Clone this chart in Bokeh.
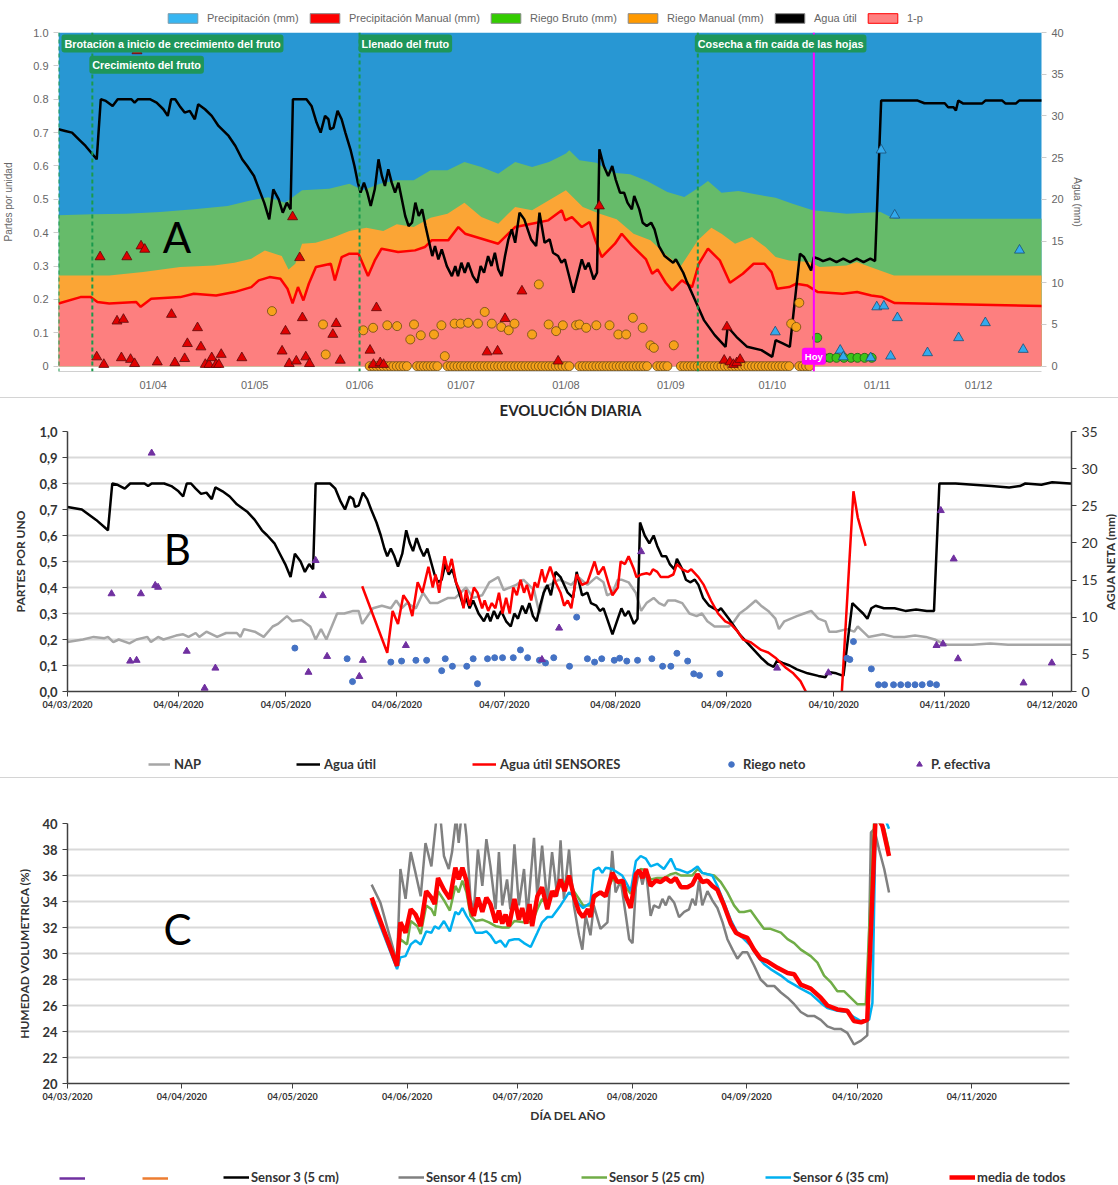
import pandas as pd
from bokeh.plotting import figure
from bokeh.models import (Range1d, LinearAxis, FixedTicker, Span, Label, Legend,
                          LegendItem, Div, CustomJSTickFormatter)
from bokeh.layouts import column
from bokeh.embed import file_html
from bokeh.resources import INLINE
from bokeh.core.properties import value

# ======================= DATA =======================
START = "2020-03-04"   # day 0 of every series (x values are days since START)

# ---- Panel A : stacked areas (fraction 0-1) ----
A_PRECIP_TOP = [(0,1.0),(291,1.0)]
A_GREEN_TOP = [(0,0.452),(10,0.455),(20,0.457),(30,0.462),(40,0.470),(50,0.480),(57,0.497),(62,0.506),
               (67,0.490),(72,0.527),(80,0.532),(86,0.547),(90,0.527),(95,0.547),(100,0.557),(105,0.557),
               (110,0.587),(115,0.587),(120,0.612),(125,0.597),(130,0.577),(135,0.612),(140,0.597),
               (145,0.612),(148,0.627),(150,0.637),(151,0.647),(154,0.617),(159,0.610),(164,0.580),
               (169,0.575),(174,0.555),(180,0.522),(185,0.507),(190,0.540),(192,0.555),(196,0.520),
               (201,0.525),(206,0.515),(212,0.505),(217,0.487),(223,0.467),(233,0.457),(243,0.462),
               (247,0.442),(291,0.442)]
A_ORANGE_TOP = [(0,0.272),(15,0.272),(25,0.282),(36,0.297),(46,0.302),(52,0.310),(57,0.322),(61,0.347),
                (66,0.330),(68,0.290),(70,0.307),(72,0.367),(76,0.370),(81,0.385),(86,0.405),(91,0.415),
                (96,0.405),(100,0.425),(105,0.417),(110,0.445),(115,0.457),(120,0.490),(125,0.447),
                (130,0.427),(135,0.477),(140,0.467),(145,0.497),(150,0.527),(155,0.477),(160,0.457),
                (165,0.440),(170,0.397),(175,0.377),(180,0.330),(184,0.300),(189,0.377),(193,0.415),
                (196,0.397),(200,0.367),(205,0.387),(209,0.357),(212,0.327),(216,0.317),(222,0.312),
                (225,0.297),(233,0.302),(236,0.312),(240,0.297),(247,0.272),(291,0.272)]
A_RED_LINE = [(0,0.188),(6.5,0.207),(9.5,0.207),(11.5,0.192),(15,0.188),(23,0.192),(24.3,0.178),
              (27.4,0.202),(36,0.207),(40,0.217),(46.6,0.212),(52,0.222),(57,0.237),(59.2,0.257),
              (62.4,0.267),(65.6,0.262),(67.7,0.232),(69.2,0.188),(70.8,0.237),(72.4,0.197),(74,0.247),
              (76.1,0.297),(80.5,0.307),(81.7,0.257),(83.7,0.327),(86,0.337),(88.7,0.337),(91.5,0.270),
              (93.5,0.317),(95.5,0.352),(100.4,0.342),(105.4,0.347),(108.3,0.357),(110.3,0.377),
              (115.2,0.377),(118.2,0.417),(120.2,0.397),(125.1,0.382),(130,0.367),(135,0.417),
              (139.9,0.427),(144.8,0.437),(148.8,0.467),(149.8,0.437),(151.8,0.447),(154.7,0.417),
              (157,0.432),(158.7,0.377),(160.6,0.327),(164.5,0.367),(166.5,0.397),(169.5,0.362),
              (173.7,0.320),(175.5,0.277),(177.1,0.290),(179.5,0.250),(181.4,0.227),(184.3,0.257),
              (187.3,0.237),(189.3,0.307),(192,0.352),(195.5,0.317),(198.5,0.250),(202.3,0.277),
              (205.5,0.307),(208.7,0.307),(210.8,0.282),(212.4,0.232),(216,0.237),(218.1,0.247),
              (221.3,0.242),(224.5,0.222),(231.8,0.217),(236.1,0.222),(240.3,0.212),(243.5,0.207),
              (247.2,0.189),(291,0.180)]

# ---- Agua util (fraction) shared by A and B ----
AGUA_UTIL = [(0,0.71),(2,0.705),(4,0.70),(6,0.68),(8,0.66),(11.3,0.62),(12.5,0.80),(14,0.795),(16,0.78),
             (17.5,0.80),(21.5,0.80),(22.5,0.79),(23.5,0.80),(27,0.80),(29,0.79),(31,0.77),(32.3,0.75),
             (33.3,0.80),(34.5,0.80),(35.8,0.78),(37.3,0.76),(38.8,0.765),(40.3,0.74),(41.3,0.785),
             (43.3,0.77),(45.3,0.75),(47.3,0.72),(50.3,0.69),(52.3,0.66),(54.3,0.62),(55.8,0.60),
             (57.8,0.57),(59.3,0.53),(60.8,0.49),(62.3,0.44),(63.5,0.53),(65.1,0.50),(66.3,0.46),
             (67.5,0.49),(68.6,0.47),(69.3,0.80),(73.3,0.80),(74.8,0.78),(76.3,0.73),(77.5,0.70),
             (78.8,0.75),(79.8,0.74),(80.3,0.71),(81.3,0.715),(82.5,0.765),(83.7,0.74),(84.8,0.70),
             (86.3,0.65),(87.5,0.60),(88.5,0.55),(89.3,0.52),(90.3,0.55),(91.3,0.52),(92.3,0.48),
             (93.5,0.53),(94.6,0.62),(95.6,0.57),(96.5,0.54),(97.5,0.59),(98.5,0.55),(99.5,0.52),
             (100.5,0.55),(101.5,0.50),(102.5,0.45),(103.5,0.42),(104.5,0.43),(105.5,0.49),(106.5,0.45),
             (107.5,0.47),(108.5,0.42),(109.6,0.37),(110.5,0.33),(111.3,0.36),(112.3,0.32),(113.3,0.35),
             (114.8,0.30),(116.3,0.27),(117.3,0.30),(118.1,0.27),(119.1,0.31),(120.1,0.28),(121.1,0.31),
             (122.5,0.27),(123.8,0.25),(124.8,0.30),(125.8,0.28),(127,0.33),(128,0.30),(129,0.34),
             (130,0.29),(131,0.27),(132,0.33),(133,0.38),(134,0.41),(135,0.37),(136.3,0.46),(137.7,0.44),
             (139.7,0.38),(141.2,0.36),(142.2,0.46),(143.7,0.37),(145.2,0.38),(146.2,0.34),(147.7,0.33),
             (148.7,0.31),(149.7,0.32),(150.7,0.28),(152.2,0.22),(153.7,0.28),(154.7,0.32),(155.7,0.29),
             (156.7,0.31),(158.2,0.26),(159.2,0.28),(159.9,0.65),(161.2,0.60),(162.5,0.57),(163.7,0.60),
             (164.7,0.56),(166,0.52),(167.2,0.52),(168.2,0.49),(169.5,0.47),(170.2,0.51),(171.7,0.47),
             (172.7,0.43),(173.9,0.42),(175.2,0.43),(176.2,0.41),(177.5,0.36),(179.2,0.33),(181.7,0.31),
             (182.5,0.32),(184.7,0.28),(187.7,0.22),(189.7,0.19),(191.7,0.16),(193.7,0.13),(195.7,0.105),
             (197.2,0.095),(198.2,0.12),(199.7,0.11),(201.7,0.10),(203.7,0.085),(206.7,0.07),(209.7,0.06),
             (211.7,0.055),(212.5,0.075),(214.7,0.07),(216.7,0.06),(219.2,0.34),(220.7,0.32),(222.2,0.30),
             (223.4,0.28),(224.5,0.32),(225.7,0.33),(228,0.32),(231,0.32),(234,0.31),(237,0.315),
             (240,0.31),(242,0.31),(243.5,0.80),(248,0.80),(253,0.795),(258,0.79),(263,0.785),(266,0.79),
             (267.5,0.80),(272,0.795),(275,0.805),(280,0.80),(291,0.80)]
# Panel A version of the curve after early September
A_AGUA_UTIL_TAIL = [(185.6,0.257),(190.8,0.138),(194,0.093),(197.2,0.058),(197.8,0.118),(200.4,0.088),
                    (203.6,0.058),(207.8,0.048),(211,0.028),(212,0.078),(214.1,0.068),(216.2,0.058),
                    (219.2,0.337),(220.4,0.327),(222.5,0.287),(223.3,0.327),(224.6,0.322),(226,0.315),
                    (228,0.322),(230,0.312),(232,0.322),(234,0.312),(236,0.322),(238,0.312),(240,0.322),
                    (241.4,0.315),(243.2,0.796),(254,0.796),(256,0.788),(262,0.788),(263,0.776),
                    (264.6,0.776),(265.3,0.766),(266,0.796),(267.5,0.787),(273,0.787),(274,0.796),
                    (279,0.796),(280,0.787),(283,0.787),(284,0.796),(291,0.796)]

# ---- Panel A scatter (day, mm) ----
A_PREC_MANUAL = [(11.3,1.1),(12.3,13.1),(13.4,0.2),(17.3,5.4),(18.6,1.0),(19.2,5.6),(20.2,13.1),(21.3,0.8),
                 (22.5,0.3),(23.2,37.8),(24.4,14.4),(25.5,14.0),(29.2,0.5),(33.4,6.2),(34.4,0.4),(37.3,0.9),
                 (38.1,2.7),(41.1,4.6),(42.1,2.3),(43.4,0.2),(44.5,0.2),(45.3,1.0),(46.6,0.2),(47.4,0.2),
                 (48.1,1.4),(54.2,1.0),(66.1,1.8),(67.1,4.2),(68.2,0.3),(69.2,17.9),(70.3,0.6),(71.3,13.0),
                 (72.1,5.8),(73.1,1.1),(74.2,0.3),(81.1,3.8),(82.1,5.1),(83.3,0.7),(92.1,1.9),(93.1,0.2),
                 (94.0,7.0),(95.1,0.4),(96.1,0.2),(126.7,1.7),(129.8,1.8),(132.0,5.7),(137.0,9.0),
                 (147.7,0.6),(159.9,19.2),(196.8,0.7),(197.6,4.7),(198.5,0.5),(199.5,0.2),(200.5,0.4),
                 (201.5,0.8)]
A_RIEGO_MANUAL = [(63.1,6.6),(78.2,5.0),(79.0,1.4),(90.1,4.3),(93.0,4.6),(97.2,4.9),(100.1,4.8),(104.0,3.2),
                  (105.1,5.0),(107.1,3.7),(111.0,3.8),(113.2,4.9),(114.2,1.2),(117.1,5.1),(118.9,5.1),
                  (121.1,5.2),(124.0,5.1),(126.0,6.5),(128.1,5.1),(130.9,4.7),(133.1,4.3),(134.8,5.1),
                  (140.0,3.8),(142.0,9.8),(144.9,5.0),(147.1,4.2),(149.1,4.9),(153.0,4.9),(154.0,5.0),
                  (156.0,4.6),(159.0,4.9),(162.9,4.9),(165.5,3.8),(167.8,3.8),(169.8,5.8),(172.7,4.6),
                  (175.0,2.5),(176.0,2.2),(181.9,2.5),(216.6,5.1),(218.1,4.7),(219.0,7.6)]
A_RIEGO_MANUAL_ZERO_SPANS = [(92,103),(106,112),(115,151),(154,174),(177,180),(184,216),(219,222)]
A_RIEGO_BRUTO = [(224.3,3.4),(225.5,1.0),(226.3,1.0),(228.0,1.0),(230.0,1.0),(232.2,1.0),(234.3,1.0),
                 (236.2,1.0),(238.3,1.0),(240.4,1.0)]
A_PRECIP = [(211.9,4.1),(231.1,1.9),(232.0,1.1),(240.1,1.0),(241.9,7.1),(243.2,25.9),(244.0,7.2),
            (246.0,1.2),(247.2,18.1),(248.0,5.8),(256.9,1.6),(266.1,3.4),(274.0,5.2),(284.1,13.9),
            (285.2,2.0)]

PHASE_NAMES = ["Brotación a inicio de crecimiento del fruto", "Crecimiento del fruto",
               "Llenado del fruto", "Cosecha a fin caída de las hojas"]
PHASE_DATES = ["2020-03-04", "2020-03-14", "2020-06-01", "2020-09-09"]
HOY_DATE = "2020-10-13"
A_LEGEND_LABELS = ["Precipitación (mm)", "Precipitación Manual (mm)", "Riego Bruto (mm)",
                   "Riego Manual (mm)", "Agua útil", "1-p"]
A_TICK_DATES = ["2020-04-01", "2020-05-01", "2020-06-01", "2020-07-01", "2020-08-01",
                "2020-09-01", "2020-10-01", "2020-11-01", "2020-12-01"]

# ---- Panel B (fraction) ----
B_NAP = [(0,0.19),(4.3,0.20),(7.3,0.21),(10.3,0.205),(11.3,0.21),(12.8,0.19),(14.3,0.20),(17.3,0.185),
         (19.3,0.20),(22.3,0.21),(23.3,0.19),(25.3,0.21),(26.8,0.20),(30.3,0.215),(32.3,0.22),(33.8,0.21),
         (35.8,0.225),(36.8,0.21),(38.8,0.23),(41.8,0.21),(44.3,0.225),(47.3,0.225),(48.3,0.21),(49.3,0.24),
         (52.3,0.23),(54.8,0.21),(57.3,0.25),(58.8,0.26),(61.3,0.29),(62.8,0.27),(65.3,0.275),(67.8,0.25),
         (69.3,0.20),(70.8,0.24),(72.3,0.20),(75.3,0.30),(77.3,0.30),(79.8,0.31),(81.3,0.31),(82.3,0.26),
         (85.3,0.32),(87.8,0.33),(90.3,0.32),(91.8,0.35),(93.3,0.32),(94.8,0.34),(97.3,0.32),(99.3,0.38),
         (101.3,0.34),(103.3,0.34),(106.3,0.36),(108.3,0.36),(111.3,0.40),(113.3,0.36),(115.8,0.37),
         (117.8,0.42),(120.3,0.44),(121.8,0.39),(125.3,0.41),(127.3,0.43),(130.3,0.39),(131.8,0.30),
         (133.3,0.40),(137.3,0.43),(140.7,0.41),(142.7,0.44),(145.2,0.41),(147.7,0.44),(149.7,0.42),
         (150.7,0.37),(152.2,0.38),(153.7,0.43),(154.7,0.43),(156.7,0.42),(158.7,0.38),(160.2,0.31),
         (161.7,0.34),(163.7,0.36),(165.2,0.34),(166.7,0.33),(167.7,0.35),(169.7,0.35),(171.7,0.34),
         (173.7,0.30),(175.7,0.29),(177.2,0.30),(178.7,0.27),(180.7,0.25),(182.2,0.25),(184.7,0.25),
         (186.2,0.27),(187.7,0.30),(189.7,0.32),(192.2,0.35),(193.7,0.33),(195.7,0.31),(197.7,0.28),
         (198.7,0.24),(200.2,0.27),(203.7,0.29),(205.7,0.30),(207.7,0.31),(209.7,0.28),(211.7,0.27),
         (212.7,0.23),(214.7,0.23),(217.7,0.24),(219.7,0.23),(220.7,0.25),(222.2,0.23),(223.7,0.21),
         (227.7,0.22),(230.7,0.21),(233.7,0.21),(236.7,0.215),(239.7,0.21),(242.2,0.20),(243.7,0.19),
         (245.7,0.18),(252.7,0.18),(257.7,0.185),(262.7,0.18),(267.7,0.18),(280.2,0.18)]
B_AGUA_SENSORES = [(82.3,0.405),(89.3,0.149),(90.8,0.31),(92.3,0.26),(93.8,0.37),(95.3,0.34),(96.3,0.29),
                   (97.8,0.42),(99.1,0.38),(100.8,0.48),(102,0.40),(102.8,0.45),(103.8,0.38),(105.3,0.52),
                   (106.3,0.46),(107.3,0.51),(108.5,0.42),(109.8,0.38),(110.6,0.32),(111.3,0.39),(112.3,0.33),
                   (113.5,0.40),(114.5,0.38),(115.8,0.32),(116.5,0.35),(117.5,0.31),(118.5,0.34),(119.5,0.32),
                   (120.5,0.38),(121.5,0.30),(122.5,0.36),(123.5,0.30),(124.5,0.40),(125.5,0.37),(126.5,0.43),
                   (127.5,0.38),(128.3,0.41),(129.5,0.35),(130.5,0.42),(131.3,0.40),(132.5,0.47),(133.3,0.42),
                   (134.8,0.48),(136.3,0.42),(137.7,0.38),(138.7,0.33),(139.7,0.35),(140.7,0.32),(142.2,0.45),
                   (143.7,0.41),(145.2,0.42),(147.2,0.50),(148.2,0.45),(149.7,0.48),(151.2,0.41),(152.2,0.37),
                   (153.7,0.40),(154.5,0.50),(155.7,0.49),(156.7,0.52),(158.2,0.47),(158.9,0.44),(160.2,0.45),
                   (161.7,0.455),(162.7,0.45),(163.5,0.47),(164.7,0.46),(165.7,0.44),(167.7,0.44),(169.2,0.45),
                   (170.2,0.49),(171.7,0.47),(173.2,0.46),(174.2,0.47),(176.2,0.44),(177.7,0.41),(179.7,0.35),
                   (181.7,0.30),(183.7,0.27),(185.2,0.26),(187.2,0.23),(188.7,0.20),(190.7,0.19),(193.7,0.16),
                   (195.7,0.15),(197.7,0.13),(199.2,0.11),(200.7,0.09),(202.7,0.07),(204.7,0.04),(206.2,0.0),
                   (209,-0.08),(215,-0.3),(219.5,0.77),(220.7,0.67),(221.7,0.62),(222.9,0.56)]
B_RIEGO_NETO = [(63.5,0.167),(78.1,0.126),(79.6,0.038),(90.3,0.113),(93.3,0.117),(97.3,0.12),(100.3,0.12),
                (104.5,0.08),(105.5,0.126),(107.5,0.097),(111.5,0.097),(113.3,0.126),(114.5,0.03),(117.3,0.126),
                (119.3,0.13),(121.5,0.13),(124.5,0.13),(126.5,0.16),(128.5,0.13),(131.8,0.12),(133.5,0.11),
                (135.8,0.13),(140.2,0.097),(142.2,0.286),(145.2,0.126),(147.2,0.113),(149.2,0.126),
                (152.7,0.12),(154.2,0.128),(156.2,0.117),(159.2,0.12),(163.2,0.126),(166.2,0.097),
                (168.5,0.097),(170.2,0.147),(173.2,0.117),(174.9,0.068),(176.5,0.062),(182.2,0.068),
                (217.7,0.128),(218.5,0.123),(219.5,0.192),(224.5,0.087),(226.5,0.026),(228.2,0.026),
                (230.7,0.026),(232.7,0.026),(234.7,0.026),(236.7,0.026),(238.7,0.026),(240.9,0.03),
                (242.7,0.026)]
B_P_EFECTIVA = [(12.3,0.376),(17.5,0.117),(19.3,0.12),(20.5,0.376),(23.5,0.917),(24.5,0.408),(25.3,0.401),
                (33.3,0.155),(38.3,0.013),(41.3,0.09),(67.3,0.074),(69.3,0.504),(71.3,0.369),(72.5,0.135),
                (81.5,0.058),(82.5,0.12),(94.5,0.177),(132.5,0.123),(137.3,0.244),(160.2,0.538),(198.2,0.09),
                (212.5,0.072),(242.7,0.177),(243.9,0.696),(244.5,0.183),(247.5,0.51),(248.7,0.126),
                (267,0.033),(274.9,0.11)]
B_TITLE = "EVOLUCIÓN DIARIA"
B_LEGEND_LABELS = ["NAP", "Agua útil", "Agua útil SENSORES", "Riego neto", "P. efectiva"]
B_TICK_DATES = ["2020-03-04", "2020-04-04", "2020-05-04", "2020-06-04", "2020-07-04",
                "2020-08-04", "2020-09-04", "2020-10-04", "2020-11-04", "2020-12-04"]

# ---- Panel C (humedad volumetrica %) ----
C_SENSOR4 = [(82.4,35.3),(84.8,33.9),(89.3,29.3),(90.2,36.5),(91.6,34.2),(93.0,37.8),(94.3,36.2),(95.7,34.4),
             (97.0,38.5),(98.6,36.7),(100.0,40.5),(101.1,40.3),(102.0,37.5),(103.3,36.5),(104.2,37.8),
             (105.3,40.5),(106.0,38.5),(106.7,40.5),(107.6,40.3),(108.1,39.0),(109.2,34.2),(110.1,33.2),
             (111.2,38.0),(112.4,35.2),(113.5,38.8),(114.6,36.7),(116.0,33.4),(116.9,37.8),(117.8,33.7),
             (119.1,35.7),(120.0,33.4),(121.1,38.4),(122.3,33.7),(123.7,36.5),(124.6,32.9),(126.4,38.9),
             (127.3,34.4),(128.6,38.3),(130.0,33.9),(131.3,37.8),(132.7,34.4),(133.6,38.7),(134.5,34.2),
             (135.9,38.0),(137.2,33.7),(138.6,31.4),(139.5,30.3),(140.4,32.9),(141.7,31.4),(142.6,33.7),
             (144.4,31.9),(146.3,32.4),(147.6,37.9),(148.5,34.7),(149.9,35.6),(151.3,32.9),(152.2,31.1),
             (153.1,30.8),(154.0,35.1),(154.9,36.4),(155.8,35.3),(156.7,36.5),(158.0,32.9),(158.9,33.7),
             (160.3,33.5),(161.2,34.2),(162.1,33.7),(163.0,34.4),(164.4,33.9),(165.7,32.8),(167.1,33.2),
             (168.4,33.4),(169.3,34.2),(170.2,33.7),(171.1,35.6),(172.0,33.7),(173.4,34.8),(174.7,34.1),
             (176.1,33.5),(177.5,32.4),(178.8,31.1),(180.2,30.3),(181.5,29.6),(182.9,30.1),(184.2,30.1),
             (186.0,29.1),(187.8,28.0),(189.6,27.5),(191.5,27.5),(193.3,27.0),(195.1,26.6),(196.9,26.1),
             (198.7,25.5),(200.5,25.2),(202.3,25.2),(204.1,24.9),(205.9,24.4),(207.7,24.2),(209.5,24.2),
             (211.3,23.9),(213.1,23.0),(215.0,23.3),(216.7,23.7),(217.7,39.3),(218.6,39.6),(219.9,38.0),
             (221.3,36.5),(222.6,34.7)]
C_SENSOR5 = [(82.4,34.0),(89.3,29.3),(90.2,31.1),(92.0,30.7),(93.0,32.5),(94.8,32.1),(95.7,31.5),(97.2,33.7),
             (98.6,33.4),(99.5,32.9),(100.4,34.8),(102.0,34.1),(103.6,33.3),(105.1,35.2),(106.0,34.7),
             (107.0,35.6),(108.1,34.7),(109.2,32.9),(110.6,32.5),(112.4,32.6),(114.2,32.4),(116.0,32.1),
             (117.8,32.0),(119.6,32.0),(121.1,32.5),(123.7,32.4),(125.9,32.4),(127.3,33.4),(128.6,34.2),
             (130.0,33.8),(131.3,34.6),(133.6,35.2),(135.9,35.8),(137.2,34.8),(138.6,34.2),(139.7,33.7),
             (141.7,33.7),(142.6,34.2),(144.4,34.7),(145.8,34.6),(147.6,35.7),(149.0,35.5),(151.3,35.1),
             (152.6,34.6),(154.0,36.1),(155.3,36.5),(156.7,36.4),(158.0,35.7),(159.8,35.8),(161.6,35.8),
             (163.5,36.1),(164.8,36.2),(166.2,36.0),(169.3,36.0),(170.7,36.5),(172.0,36.2),(173.4,36.1),
             (175.2,36.0),(177.0,35.5),(178.8,34.7),(180.6,33.7),(182.0,33.2),(183.3,33.2),(185.1,33.3),
             (186.9,32.6),(188.7,31.9),(190.5,31.9),(193.3,31.6),(195.1,31.1),(196.9,30.8),(198.7,30.3),
             (201.4,29.8),(203.2,29.3),(205.0,28.3),(206.8,27.8),(208.6,27.1),(210.4,27.1),(212.2,26.6),
             (214.0,26.1),(216.3,26.1),(218.6,40.5),(221.3,39.6),(222.6,38.0)]
C_SENSOR6 = [(82.4,33.9),(84.8,32.1),(89.3,28.8),(90.2,29.7),(91.6,29.8),(93.0,30.7),(94.3,31.0),(95.7,30.7),
             (97.2,31.7),(98.6,31.6),(99.5,32.1),(100.6,31.9),(102.0,32.5),(103.6,31.7),(105.1,33.2),
             (106.0,33.0),(107.0,33.5),(108.1,32.9),(109.2,32.4),(110.6,31.6),(112.4,31.6),(113.5,31.7),
             (114.6,31.4),(116.0,30.8),(117.3,31.0),(118.7,30.5),(119.6,31.0),(121.1,31.1),(122.3,31.1),
             (123.7,30.8),(125.5,30.5),(127.3,31.6),(128.6,32.4),(130.0,32.8),(131.3,32.8),(133.6,33.7),
             (135.9,34.7),(137.2,34.4),(138.6,33.8),(139.7,33.5),(141.7,33.9),(142.6,36.4),(144.0,36.6),
             (144.9,36.2),(145.8,36.6),(147.6,36.5),(150.3,36.0),(151.3,35.5),(152.6,34.8),(154.0,37.1),
             (155.3,37.5),(156.7,37.3),(158.0,36.7),(159.8,36.9),(161.6,36.5),(163.5,37.3),(164.8,36.5),
             (166.2,36.4),(168.0,36.2),(169.3,36.4),(170.7,36.7),(172.0,36.2),(173.4,36.1),(174.7,36.0),
             (176.1,35.2),(177.9,33.9),(179.7,32.6),(181.5,31.6),(183.3,31.1),(185.1,30.6),(186.9,29.8),
             (188.7,29.2),(190.5,28.8),(193.3,28.3),(195.1,27.9),(196.9,27.6),(198.7,27.3),(201.4,26.9),
             (204.1,26.2),(205.9,25.8),(208.6,25.6),(211.3,25.5),(213.1,25.1),(215.0,24.8),(217.2,24.9),
             (218.1,26.2),(219.0,40.5),(221.3,40.5),(222.6,39.6)]
C_MEDIA = [(82.4,34.3),(89.3,29.05),(90.2,32.4),(91.6,31.6),(93.0,33.4),(94.3,33.0),(95.7,32.1),(97.2,34.8),
           (98.6,34.3),(99.5,33.8),(100.4,35.8),(102.0,34.9),(103.6,34.2),(105.1,36.6),(106.0,35.7),
           (107.0,36.6),(108.1,35.6),(109.2,33.5),(110.1,32.9),(111.2,34.3),(112.4,33.2),(113.5,34.3),
           (114.6,33.8),(116.0,32.4),(116.9,33.3),(117.8,32.3),(118.7,33.0),(119.6,32.1),(121.1,34.2),
           (122.3,32.6),(123.2,33.5),(124.3,32.3),(125.2,33.8),(125.9,32.1),(127.3,34.4),(128.6,35.1),
           (130.0,33.4),(131.3,34.8),(132.2,34.4),(133.6,35.7),(134.7,34.8),(135.9,36.0),(137.2,34.4),
           (138.6,33.2),(139.7,32.8),(141.0,33.4),(141.7,32.8),(142.6,34.4),(144.4,34.7),(145.8,34.4),
           (147.6,36.2),(149.0,35.5),(150.5,35.6),(151.3,34.4),(152.6,33.5),(154.0,36.1),(154.9,36.4),
           (155.8,35.8),(156.7,36.5),(158.0,35.2),(159.4,35.6),(160.7,35.5),(162.1,35.8),(163.5,35.5),
           (164.8,35.8),(166.2,35.1),(168.0,35.1),(169.3,35.3),(170.7,36.1),(172.0,35.5),(173.4,35.6),
           (174.7,35.2),(176.1,34.9),(177.9,33.7),(179.7,32.3),(181.1,31.6),(182.4,31.4),(184.2,31.2),
           (186.0,30.3),(187.8,29.6),(189.6,29.4),(192.4,28.9),(195.1,28.5),(196.9,28.4),(198.7,27.6),
           (201.4,27.3),(204.1,26.6),(205.9,26.0),(208.6,25.7),(211.3,25.6),(213.1,24.8),(215.0,24.7),
           (216.7,24.9),(219.0,40.8),(220.8,39.8),(222.6,37.5)]
C_LEGEND_LABELS = [" ", " ", "Sensor 3 (5 cm)", "Sensor 4 (15 cm)", "Sensor 5 (25 cm)",
                   "Sensor 6 (35 cm)", "media de todos"]
C_TICK_DATES = ["2020-03-04", "2020-04-04", "2020-05-04", "2020-06-04", "2020-07-04",
                "2020-08-04", "2020-09-04", "2020-10-04", "2020-11-04"]

# ======================= HELPERS =======================
def day_of(s):
    return (pd.Timestamp(s) - pd.Timestamp(START)).days

def split(pairs):
    return [p[0] for p in pairs], [p[1] for p in pairs]

def no_align(p):
    if "frame_align" in p.properties():
        p.frame_align = False
    return p

def make_legend(items, loc, gw, gh, font, size, color, style="normal", standoff=6, spacing=5):
    return Legend(items=[LegendItem(label=value(lab), renderers=[r]) for lab, r in items],
                  location=loc, orientation="horizontal", spacing=spacing,
                  background_fill_alpha=0, border_line_alpha=0, padding=0, margin=0,
                  glyph_width=gw, glyph_height=gh, label_height=gh, label_standoff=standoff,
                  label_text_font=font, label_text_font_size=size,
                  label_text_color=color, label_text_font_style=style)

def strip(height):
    # a frame-only strip (no axes) holding legend boxes / titles; its frame spans the whole canvas
    f = figure(width=W, height=height, x_range=Range1d(0, 1), y_range=Range1d(0, 1),
               output_backend="svg", toolbar_location=None, min_border=0,
               min_border_left=0, min_border_right=0, min_border_top=0, min_border_bottom=0,
               x_axis_location=None, y_axis_location=None, outline_line_color=None)
    f.grid.visible = False
    return no_align(f)

OFF = [-5]   # position of legend-swatch helper glyphs, outside the strips' visible range

W = 1118
SANS = "Liberation Sans"
LATO = "Lato"
GRAY_TXT = "#666666"
DARK = "#404040"
TXT = "#333333"

# ======================= PANEL A =======================
legA = strip(26)
sw_colors = [("#37b6f2", "#7a9aaa"), ("#ff0000", "#888888"), ("#33cc00", "#888888"),
             ("#ff9900", "#888888"), ("#000000", "#888888"), ("#ff8080", "#ff0000")]
a_x = [164, 306, 487, 624, 771, 864]
for lab, (fc, lc), lx in zip(A_LEGEND_LABELS, sw_colors, a_x):
    r = legA.quad(left=OFF, right=OFF, top=OFF, bottom=OFF, fill_color=fc, line_color=lc, line_width=1)
    legA.add_layout(make_legend([(lab, r)], (lx, 2), 37, 12, SANS, "11px", GRAY_TXT, standoff=6))

A_X_END = 290.6
A_Y_LOW = -0.016   # small strip below zero so that markers sitting on 0 are drawn whole
pA = figure(width=W, height=371, x_range=Range1d(0, A_X_END), y_range=Range1d(A_Y_LOW, 1),
            output_backend="svg", toolbar_location=None,
            min_border_left=57, min_border_right=77, min_border_top=6, min_border_bottom=26,
            background_fill_color="white", border_fill_color="white", outline_line_color=None)
no_align(pA)
pA.extra_y_ranges = {"mm": Range1d(A_Y_LOW * 40, 40)}
pA.grid.grid_line_color = None

x, y = split(A_PRECIP_TOP)
pA.varea(x=x, y1=0, y2=y, fill_color="#2897d3")
x, y = split(A_GREEN_TOP)
pA.varea(x=x, y1=0, y2=y, fill_color="#66bb6a")
x, y = split(A_ORANGE_TOP)
pA.varea(x=x, y1=0, y2=y, fill_color="#fba535")
x, y = split(A_RED_LINE)
pA.varea(x=x, y1=0, y2=y, fill_color="#fd7f7f")
pA.line(x, y, line_color="#ff0000", line_width=2.5)

x, y = split([p for p in AGUA_UTIL if p[0] <= 184.7] + A_AGUA_UTIL_TAIL)
pA.line(x, y, line_color="black", line_width=2.5)

zero_days = [d for a, b in A_RIEGO_MANUAL_ZERO_SPANS for d in range(a, b + 1)]
pA.scatter(zero_days, [0] * len(zero_days), y_range_name="mm", marker="circle", size=9,
           fill_color="#f7a21b", line_color="#6b4a10", line_width=0.8)
x, y = split(A_RIEGO_MANUAL)
pA.scatter(x, y, y_range_name="mm", marker="circle", size=9,
           fill_color="#f7a21b", line_color="#6b4a10", line_width=0.8)
x, y = split(A_PREC_MANUAL)
pA.scatter(x, y, y_range_name="mm", marker="triangle", size=10,
           fill_color="#e00000", line_color="#5a0a0a", line_width=0.8)
x, y = split(A_RIEGO_BRUTO)
pA.scatter(x, y, y_range_name="mm", marker="circle", size=9,
           fill_color="#3ec41a", line_color="#1d5a10", line_width=0.8)
x, y = split(A_PRECIP)
pA.scatter(x, y, y_range_name="mm", marker="triangle", size=10,
           fill_color="#33aaee", line_color="#1d4f73", line_width=0.8)

for d in PHASE_DATES:
    pA.add_layout(Span(location=day_of(d), dimension="height", line_color="#1a9a4c",
                       line_dash="4 3", line_width=2))
pA.add_layout(Span(location=day_of(HOY_DATE) + 0.3, dimension="height", line_color="#ff00ff", line_width=2))

phase_y = [0.967, 0.903, 0.967, 0.967]
phase_dx = [3, -3, -1, -3]
for name, d, yy, dx in zip(PHASE_NAMES, PHASE_DATES, phase_y, phase_dx):
    pA.add_layout(Label(x=day_of(d), y=yy, x_offset=dx, text=name, text_align="left",
                        text_baseline="middle", text_color="white", text_font=SANS,
                        text_font_size="10.8px", text_font_style="bold",
                        background_fill_color="#1e965a", padding=3, border_radius=3))
pA.add_layout(Label(x=day_of(HOY_DATE) + 0.3, y=0.03, text="Hoy", text_align="center",
                    text_baseline="middle", text_color="white", text_font=SANS,
                    text_font_size="9.5px", text_font_style="bold",
                    background_fill_color="#ff00ff", padding=3, border_radius=3))
pA.add_layout(Label(x=35, y=0.386, text="A", text_align="center", text_baseline="middle",
                    text_font=LATO, text_font_size="42px", text_color="black"))

la = pA.yaxis[0]
la.ticker = FixedTicker(ticks=[round(i * 0.1, 1) for i in range(11)], minor_ticks=[])
la.formatter = CustomJSTickFormatter(code="return tick == 0 ? '0' : tick.toFixed(1);")
la.axis_label = "Partes por unidad"
ra = LinearAxis(y_range_name="mm", ticker=FixedTicker(ticks=list(range(0, 41, 5)), minor_ticks=[]),
                axis_label="Agua (mm)")
pA.add_layout(ra, "right")
for ax in (la, ra):
    ax.axis_line_color = None
    ax.major_tick_line_color = "#cccccc"
    ax.major_tick_out = 5
    ax.major_tick_in = 0
    ax.minor_tick_line_color = None
    ax.major_label_text_font = SANS
    ax.major_label_text_font_size = "11px"
    ax.major_label_text_color = GRAY_TXT
    ax.axis_label_text_font = SANS
    ax.axis_label_text_font_size = "10px"
    ax.axis_label_text_color = GRAY_TXT
    ax.axis_label_text_font_style = "normal"
la.axis_label_standoff = 16
ra.axis_label_standoff = 5
ba = pA.xaxis[0]
ba.ticker = FixedTicker(ticks=[day_of(d) for d in A_TICK_DATES], minor_ticks=[])
ba.major_label_overrides = {day_of(d): pd.Timestamp(d).strftime("%d/%m") for d in A_TICK_DATES}
ba.axis_line_color = "#d0d0d0"
ba.major_tick_line_color = None
ba.minor_tick_line_color = None
ba.major_label_standoff = 1
ba.major_label_text_font = SANS
ba.major_label_text_font_size = "11px"
ba.major_label_text_color = GRAY_TXT

# ======================= PANEL B =======================
ttlB = strip(22)
ttlB.add_layout(Label(x=570, y=11, x_units="screen", y_units="screen", text=B_TITLE,
                      text_align="center", text_baseline="middle", text_font=LATO,
                      text_font_size="15px", text_font_style="bold", text_color="#262626"))

B_X_END = 280.4
pB = figure(width=W, height=320, x_range=Range1d(0, B_X_END), y_range=Range1d(0, 1),
            output_backend="svg", toolbar_location=None,
            min_border_left=67, min_border_right=47, min_border_top=11, min_border_bottom=49,
            outline_line_color=None)
no_align(pB)
pB.extra_y_ranges = {"mm": Range1d(0, 35)}
pB.xgrid.grid_line_color = None
pB.ygrid.grid_line_color = "#d9d9d9"
pB.ygrid.grid_line_width = 2

x, y = split(B_NAP)
pB.line(x, y, line_color="#a6a6a6", line_width=2.5)
x, y = split(AGUA_UTIL)
pB.line(x, y, line_color="black", line_width=2.5)
x, y = split(B_AGUA_SENSORES)
pB.line(x, y, line_color="#ff0000", line_width=2.5)
x, y = split(B_RIEGO_NETO)
pB.scatter(x, y, marker="circle", size=6, fill_color="#4472c4", line_color="#4472c4")
x, y = split(B_P_EFECTIVA)
pB.scatter(x, y, marker="triangle", size=7, fill_color="#7030a0", line_color="#7030a0")

lb = pB.yaxis[0]
lb.ticker = FixedTicker(ticks=[round(i * 0.1, 1) for i in range(11)], minor_ticks=[])
lb.formatter = CustomJSTickFormatter(code="return tick.toFixed(1).replace('.', ',');")
lb.axis_label = "PARTES POR UNO"
rb = LinearAxis(y_range_name="mm", ticker=FixedTicker(ticks=list(range(0, 36, 5)), minor_ticks=[]))
pB.add_layout(rb, "right")
bb = pB.xaxis[0]
bb.ticker = FixedTicker(ticks=[day_of(d) for d in B_TICK_DATES], minor_ticks=[])
bb.major_label_overrides = {day_of(d): pd.Timestamp(d).strftime("%d/%m/%Y") for d in B_TICK_DATES}
for ax in (lb, rb, bb):
    ax.axis_line_color = DARK
    ax.axis_line_width = 1.5
    ax.major_tick_line_color = DARK
    ax.major_tick_out = 5
    ax.major_tick_in = 0
    ax.minor_tick_line_color = None
    ax.major_label_text_font = LATO
    ax.major_label_text_color = TXT
    ax.major_label_text_font_style = "bold"
    ax.major_label_text_font_size = "13px"
    ax.axis_label_text_font = LATO
    ax.axis_label_text_font_style = "bold"
    ax.axis_label_text_font_size = "12px"
    ax.axis_label_text_color = TXT
rb.major_label_text_font_style = "normal"
rb.major_label_text_font_size = "14px"
bb.major_label_text_font_size = "9px"
bb.major_label_standoff = 2
lb.axis_label_standoff = 8
pB.add_layout(Label(x=10, y=130, x_units="screen", y_units="screen", text="AGUA NETA (mm)",
                    angle=1.5708, text_align="center", text_baseline="middle", text_font=LATO,
                    text_font_size="12px", text_font_style="bold", text_color=TXT), "right")
pB.add_layout(Label(x=30.7, y=0.55, text="B", text_align="center", text_baseline="middle",
                    text_font=LATO, text_font_size="42px", text_color="black"))

legB = strip(37)
b_swatches = [legB.line(OFF, OFF, line_color="#a6a6a6", line_width=2.5),
              legB.line(OFF, OFF, line_color="black", line_width=2.5),
              legB.line(OFF, OFF, line_color="#ff0000", line_width=2.5),
              legB.scatter(OFF, OFF, marker="circle", size=6, fill_color="#4472c4", line_color="#4472c4"),
              legB.scatter(OFF, OFF, marker="triangle", size=7, fill_color="#7030a0", line_color="#7030a0")]
b_x = [148, 296, 472, 723, 911]
b_gw = [22, 24, 24, 16, 16]
for lab, r, lx, gw in zip(B_LEGEND_LABELS, b_swatches, b_x, b_gw):
    legB.add_layout(make_legend([(lab, r)], (lx, 5), gw, 14, LATO, "13px", TXT,
                                style="bold", standoff=4))

# ======================= PANEL C =======================
C_X_END = 271.5
pC = figure(width=W, height=380, x_range=Range1d(0, C_X_END), y_range=Range1d(20, 40),
            output_backend="svg", toolbar_location=None,
            min_border_left=67, min_border_right=49, min_border_top=45, min_border_bottom=75,
            outline_line_color=None)
no_align(pC)
pC.xgrid.grid_line_color = None
pC.ygrid.grid_line_color = "#d9d9d9"
pC.ygrid.grid_line_width = 2

x, y = split(C_SENSOR4)
pC.line(x, y, line_color="#808080", line_width=2.5)
x, y = split(C_SENSOR5)
pC.line(x, y, line_color="#70ad47", line_width=2.5)
x, y = split(C_SENSOR6)
pC.line(x, y, line_color="#00b0f0", line_width=2.5)
x, y = split(C_MEDIA)
pC.line(x, y, line_color="#ff0000", line_width=4.5)

lc = pC.yaxis[0]
lc.ticker = FixedTicker(ticks=list(range(20, 41, 2)), minor_ticks=[])
lc.axis_label = "HUMEDAD VOLUMETRICA (%)"
bc = pC.xaxis[0]
bc.ticker = FixedTicker(ticks=[day_of(d) for d in C_TICK_DATES], minor_ticks=[])
bc.major_label_overrides = {day_of(d): pd.Timestamp(d).strftime("%d/%m/%Y") for d in C_TICK_DATES}
bc.axis_label = "DÍA DEL AÑO"
for ax in (lc, bc):
    ax.axis_line_color = DARK
    ax.axis_line_width = 1.5
    ax.major_tick_line_color = DARK
    ax.major_tick_out = 5
    ax.major_tick_in = 0
    ax.minor_tick_line_color = None
    ax.major_label_text_font = LATO
    ax.major_label_text_color = TXT
    ax.major_label_text_font_style = "bold"
    ax.major_label_text_font_size = "13px"
    ax.axis_label_text_font = LATO
    ax.axis_label_text_font_style = "bold"
    ax.axis_label_text_font_size = "12px"
    ax.axis_label_text_color = TXT
bc.major_label_text_font_size = "9px"
bc.major_label_standoff = 2
bc.axis_label_standoff = 3
lc.axis_label_standoff = 7

pC.add_layout(Label(x=29.8, y=31.9, text="C", text_align="center", text_baseline="middle",
                    text_font=LATO, text_font_size="42px", text_color="black"))

legC = strip(27)
c_swatches = [legC.line(OFF, OFF, line_color="#7030a0", line_width=2.5),
              legC.line(OFF, OFF, line_color="#ed7d31", line_width=2.5),
              legC.line(OFF, OFF, line_color="#000000", line_width=2.5),
              legC.line(OFF, OFF, line_color="#808080", line_width=2.5),
              legC.line(OFF, OFF, line_color="#70ad47", line_width=2.5),
              legC.line(OFF, OFF, line_color="#00b0f0", line_width=2.5),
              legC.line(OFF, OFF, line_color="#ff0000", line_width=4.5)]
c_x = [59, 142, 223, 398, 581, 765, 949]
for lab, r, lx in zip(C_LEGEND_LABELS, c_swatches, c_x):
    legC.add_layout(make_legend([(lab, r)], (lx, 0), 26, 14, LATO, "13px", TXT,
                                style="bold", standoff=2))

# ======================= LAYOUT =======================
sep1 = Div(text="", width=W, height=1, margin=0, styles={"background-color": "#d4d4d4"})
sep2 = Div(text="", width=W, height=1, margin=0, styles={"background-color": "#d4d4d4"})
layout = column(legA, pA, sep1, ttlB, pB, legB, sep2, pC, legC, spacing=0)

with open("out.html", "w", encoding="utf-8") as f:
    f.write(file_html(layout, INLINE, "chart"))
